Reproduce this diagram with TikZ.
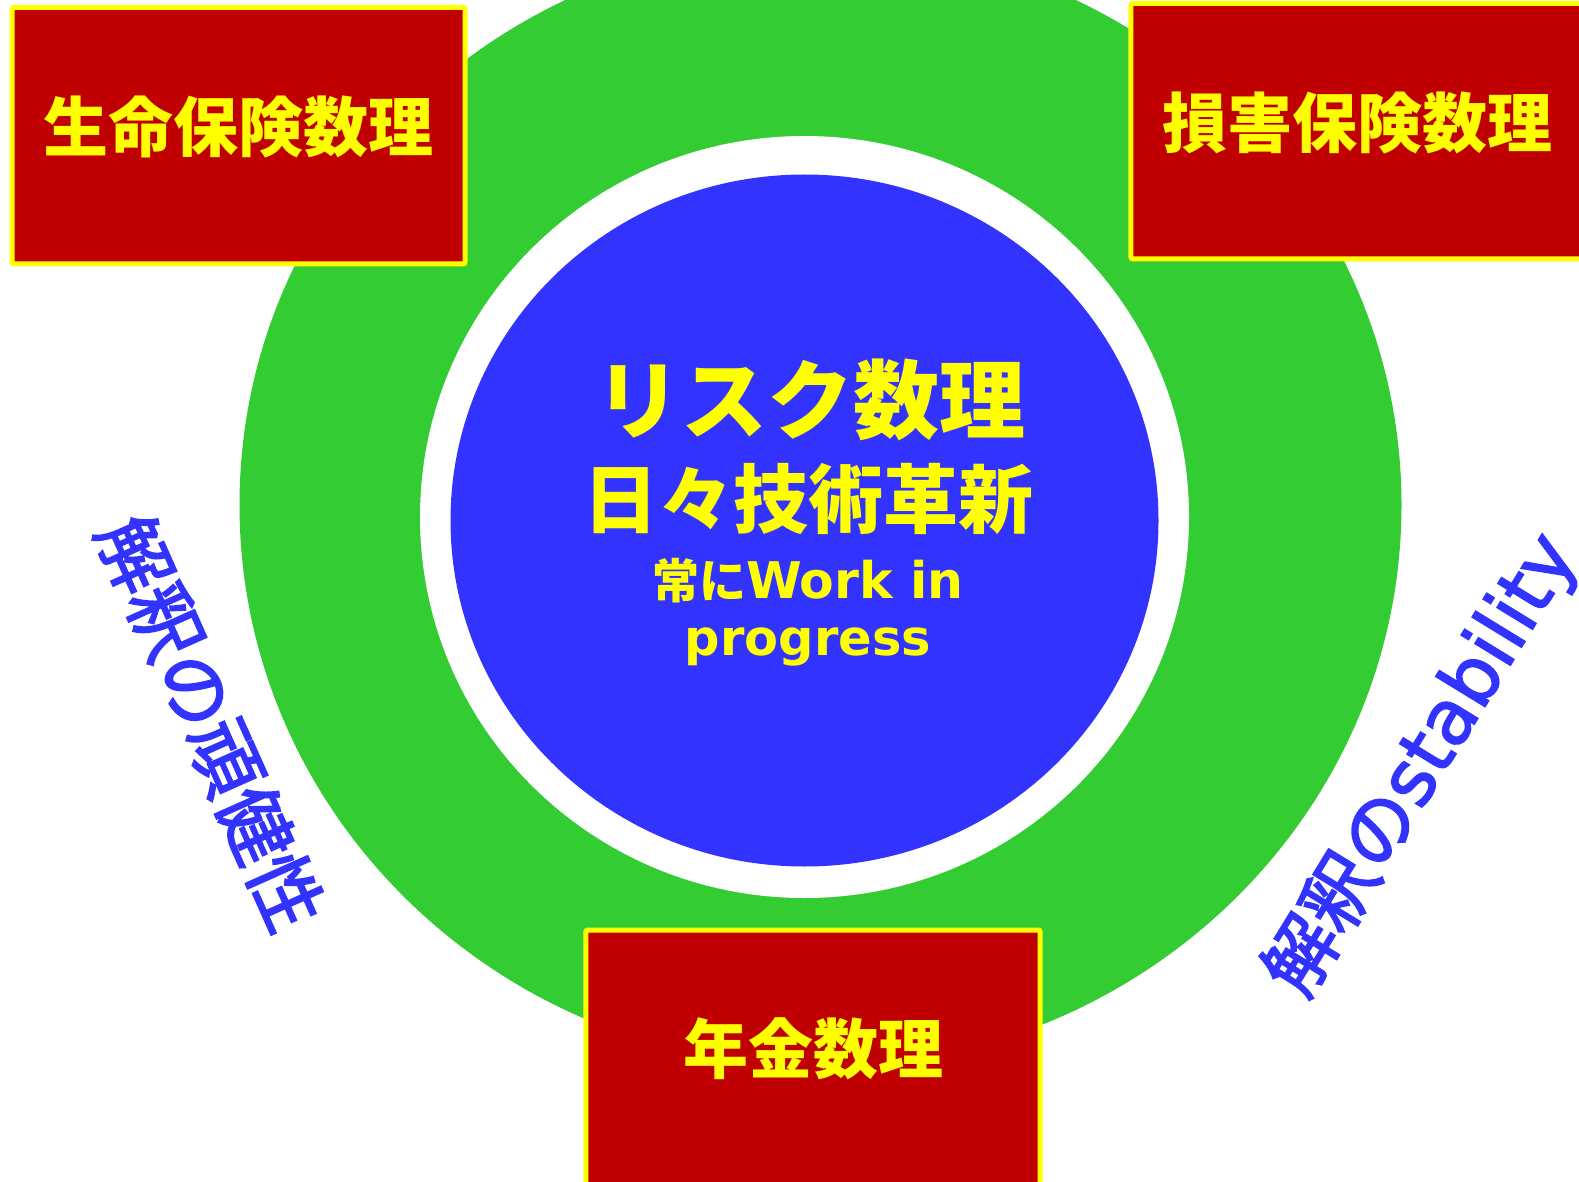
\documentclass[tikz,border=0pt]{standalone}
\usepackage{fontspec}
\newfontfamily\jp{Noto Sans CJK JP}
\newfontfamily\jpmed{Noto Sans CJK JP}[FakeBold=2.4]
\newfontfamily\dv{DejaVu Sans}
\newfontfamily\dvmed{DejaVu Sans}[FakeBold=2]
\definecolor{ringgreen}{HTML}{33CC33}
\definecolor{coreblue}{HTML}{3333FF}
\definecolor{boxred}{HTML}{C00000}
\definecolor{boxyellow}{HTML}{FFFF00}
\tikzset{
  fieldbox/.style={rectangle, draw=boxyellow, fill=boxred, line width=5pt, rounded corners=2pt, inner sep=0pt},
  fieldlabel/.style={text=boxyellow, inner sep=0pt, font=\jp\bfseries\fontsize{65pt}{65pt}\selectfont},
  coretext/.style={text=boxyellow, inner sep=0pt, anchor=base},
  sidetext/.style={text=coreblue, inner sep=0pt},
}
\begin{document}
\begin{tikzpicture}[x=1pt,y=-1pt]
\useasboundingbox (0,0) rectangle (1579,1182);
\clip (0,0) rectangle (1579,1182);
\fill[white] (0,0) rectangle (1579,1182);
% green ring
\fill[ringgreen] (820.5,505) ellipse [x radius=581pt, y radius=562pt];
% white rim and blue core
\fill[white] (804.5,517) ellipse [x radius=384.5pt, y radius=381pt];
\fill[coreblue] (804.5,520.5) ellipse [x radius=354pt, y radius=346pt];
% boxes
\node[fieldbox, minimum width=453pt, minimum height=256.5pt] (life) at (238.5,135.75) {};
\node[fieldbox, minimum width=455pt, minimum height=255.5pt] (nonlife) at (1358.4,131.25) {};
\node[fieldbox, minimum width=454.4pt, minimum height=256pt] (pension) at (813,1058) {};
\node[fieldlabel] (lifet) at (238.5,127) {生命保険数理};
\node[fieldlabel] (nonlifet) at (1357,123) {損害保険数理};
\node[fieldlabel] (pensiont) at (813,1049) {年金数理};
% core text
\node[coretext, font=\jp\bfseries\fontsize{86pt}{86pt}\selectfont] (l1) at (810,432) {リスク数理};
\node[coretext, font=\jp\bfseries\fontsize{75pt}{75pt}\selectfont] (l2) at (808.5,527) {日々技術革新};
\node[coretext] (l3) at (808,598) {{\jp\bfseries\fontsize{47pt}{47pt}\selectfont 常に}{\dv\bfseries\fontsize{50.5pt}{50.5pt}\selectfont Work in}};
\node[coretext, font=\dv\bfseries\fontsize{49.5pt}{49.5pt}\selectfont] (l4) at (808,655) {progress};
% side texts
\node[sidetext, rotate=-66, font=\jpmed\fontsize{74pt}{74pt}\selectfont] (robust) at (211,723) {解釈の頑健性};
\node[sidetext, rotate=58.5] (stab) at (1422,765) {{\jpmed\fontsize{74pt}{74pt}\selectfont 解釈の}{\dvmed\fontsize{76pt}{76pt}\selectfont stability}};
\end{tikzpicture}
\end{document}
